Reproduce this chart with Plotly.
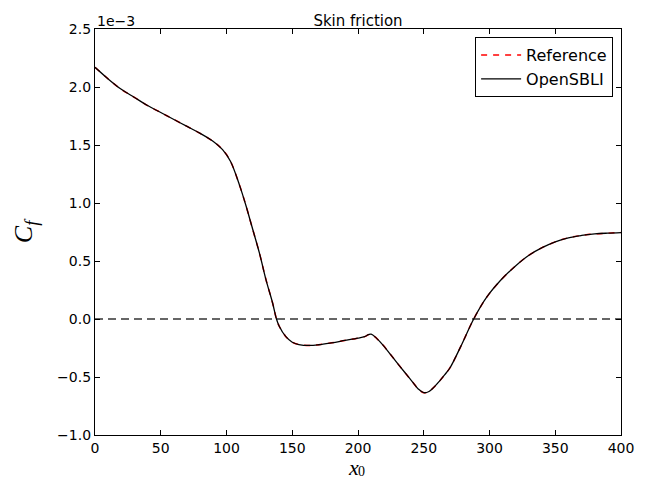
import plotly.graph_objects as go

# Streamwise station x0 and skin-friction coefficient (in units of 1e-3)
x0 = [0, 10, 20, 30, 40, 50, 60, 70, 80, 90, 97, 103, 110, 115, 119, 125,
      130, 135, 138, 140, 145, 150, 155, 163, 170, 180, 190, 200, 205, 208,
      210, 214, 219, 225, 232, 237, 242, 246, 250, 254, 258, 262, 266, 270,
      278, 288, 298, 309, 320, 330, 340, 350, 360, 370, 380, 390, 400]
cf_reference = [2.17, 2.07, 1.98, 1.91, 1.84, 1.78, 1.72, 1.66, 1.60, 1.53,
                1.46, 1.36, 1.15, 0.97, 0.81, 0.57, 0.34, 0.14, 0.0, -0.06,
                -0.15, -0.20, -0.22, -0.228, -0.222, -0.205, -0.185, -0.165,
                -0.152, -0.135, -0.13, -0.165, -0.225, -0.31, -0.41, -0.48,
                -0.55, -0.605, -0.635, -0.625, -0.585, -0.535, -0.48, -0.42,
                -0.24, 0.0, 0.19, 0.34, 0.46, 0.55, 0.615, 0.665, 0.70, 0.72,
                0.733, 0.74, 0.745]
cf_opensbli = list(cf_reference)

x_ticks = [0, 50, 100, 150, 200, 250, 300, 350, 400]
y_ticks = [-1.0, -0.5, 0.0, 0.5, 1.0, 1.5, 2.0, 2.5]

tick_font = dict(family="DejaVu Sans", size=14, color="black")
serif = "Liberation Serif"

fig = go.Figure()
fig.add_trace(go.Scatter(
    x=x0, y=cf_reference, mode="lines", name="Reference",
    line=dict(color="red", width=1.5, dash="6px,6px", shape="spline"),
))
fig.add_trace(go.Scatter(
    x=x0, y=cf_opensbli, mode="lines", name="OpenSBLI",
    line=dict(color="black", width=1.3, shape="spline"),
))

# zero reference line
fig.add_shape(type="line", xref="x", yref="y", x0=0, x1=400, y0=0, y1=0,
              line=dict(color="#666666", width=2, dash="8px,5px"), layer="below")

axis_common = dict(
    showgrid=False, zeroline=False, showline=True, linecolor="black",
    linewidth=1.2, mirror="ticks", ticks="inside", ticklen=5, tickwidth=1,
    tickcolor="black", tickfont=tick_font, automargin=False,
)
fig.update_xaxes(range=[0, 400], tickvals=x_ticks,
                 ticktext=[str(v) for v in x_ticks], **axis_common)
fig.update_yaxes(range=[-1.0, 2.5], tickvals=y_ticks,
                 ticktext=[f"{v:.1f}".replace("-", "\u2212") for v in y_ticks],
                 title=dict(text="<i>C</i><sub><i>f</i></sub>", standoff=16,
                            font=dict(family=serif, size=26, color="black")),
                 **axis_common)

# x-axis label: italic x with an upright subscript 0
fig.add_annotation(text="<i>x</i>", xref="paper", yref="paper",
                   x=0.492, y=0, xanchor="center", yanchor="top",
                   showarrow=False, yshift=-18,
                   font=dict(family=serif, size=22, color="black"))
fig.add_annotation(text="0", xref="paper", yref="paper",
                   x=0.507, y=0, xanchor="center", yanchor="top",
                   showarrow=False, yshift=-27,
                   font=dict(family=serif, size=14, color="black"))

fig.add_annotation(text="1e\u22123", xref="paper", yref="paper", x=0, y=1,
                   xanchor="left", yanchor="bottom", showarrow=False,
                   font=tick_font, yshift=-2)

fig.update_layout(
    width=646, height=480,
    margin=dict(l=95, r=25, t=29, b=45),
    paper_bgcolor="white", plot_bgcolor="white",
    title=dict(text="Skin friction", x=0.5, xref="paper", y=1, yref="paper",
               yanchor="bottom", pad=dict(b=3),
               font=dict(family="DejaVu Sans", size=15, color="black")),
    legend=dict(x=0.985, y=0.98, xanchor="right", yanchor="top",
                bordercolor="black", borderwidth=1, bgcolor="white",
                font=dict(family="DejaVu Sans", size=16, color="black"),
                itemwidth=40, tracegroupgap=2),
    showlegend=True,
)

fig.write_html("out.html")
